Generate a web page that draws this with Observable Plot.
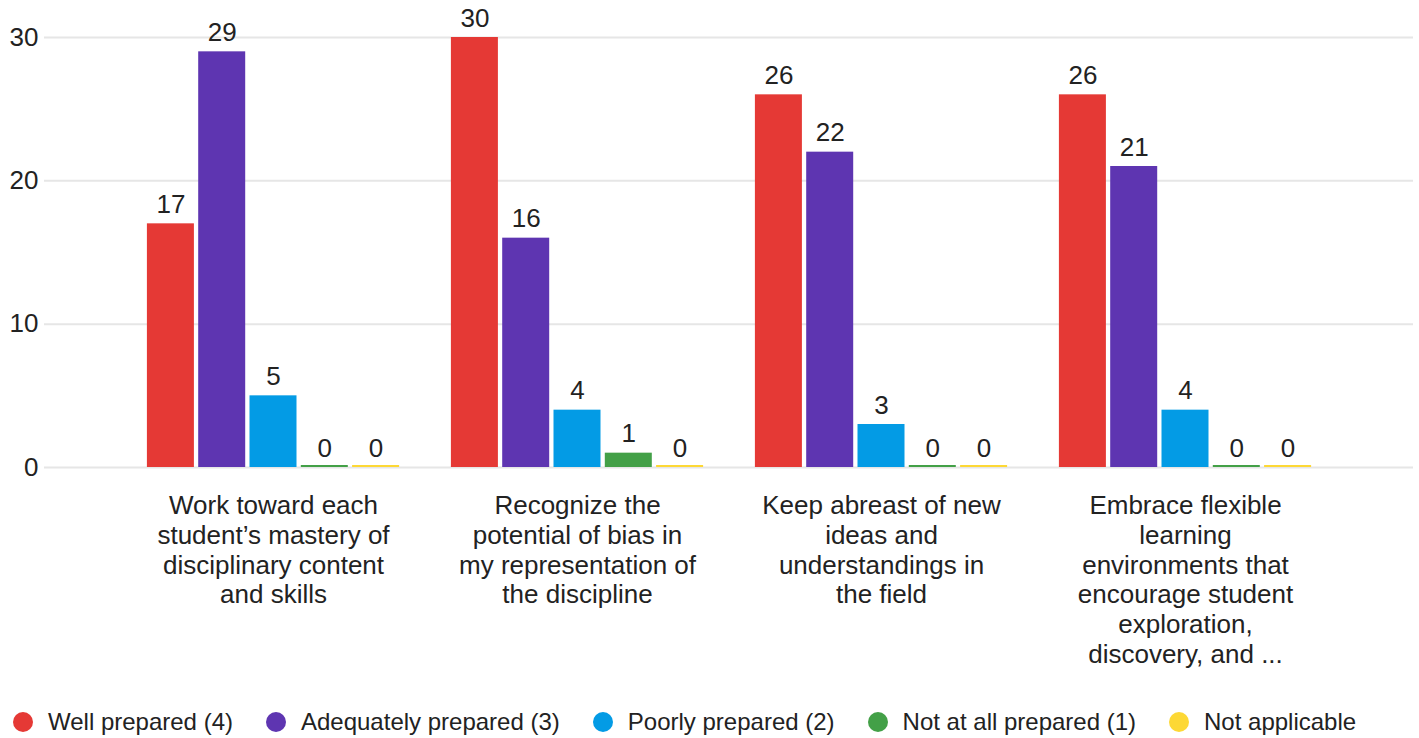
<!DOCTYPE html>
<html>
<head>
<meta charset="utf-8">
<script src="https://cdn.jsdelivr.net/npm/d3@7"></script>
<script src="https://cdn.jsdelivr.net/npm/@observablehq/plot@0.6"></script>
<style>
  html, body { margin: 0; padding: 0; background: #fff; }
  #chart svg { display: block; }
  #legend { display: flex; align-items: center; padding: 14px 0 0 13px; height: 36px;
    font-family: 'Liberation Sans', Arial, sans-serif; font-size: 24px; color: #222; }
  .item { display: flex; align-items: center; margin-right: 33px; }
  .dot { width: 20px; height: 20px; border-radius: 50%; margin-right: 15px; }
</style>
</head>
<body>
<div id="chart"></div>
<div id="legend"></div>
<script>
const groups = [
  "Work toward each student’s mastery of disciplinary content and skills",
  "Recognize the potential of bias in my representation of the discipline",
  "Keep abreast of new ideas and understandings in the field",
  "Embrace flexible learning environments that encourage student exploration, discovery, and ..."
];
const groupLabels = [
  "Work toward each\nstudent’s mastery of\ndisciplinary content\nand skills",
  "Recognize the\npotential of bias in\nmy representation of\nthe discipline",
  "Keep abreast of new\nideas and\nunderstandings in\nthe field",
  "Embrace flexible\nlearning\nenvironments that\nencourage student\nexploration,\ndiscovery, and ..."
];
const series = ["Well prepared (4)", "Adequately prepared (3)", "Poorly prepared (2)", "Not at all prepared (1)", "Not applicable"];
const colors = ["#e53935", "#5e35b1", "#039be5", "#43a047", "#fdd835"];
const wellPrepared = [17, 30, 26, 26];
const adequatelyPrepared = [29, 16, 22, 21];
const poorlyPrepared = [5, 4, 3, 4];
const notAtAllPrepared = [0, 1, 0, 0];
const notApplicable = [0, 0, 0, 0];
const yTicks = [0, 10, 20, 30];

const seriesValues = [wellPrepared, adequatelyPrepared, poorlyPrepared, notAtAllPrepared, notApplicable];
const rows = [];
series.forEach((s, i) => groups.forEach((g, j) => rows.push({group: g, series: s, value: seriesValues[i][j]})));

const W = 1419, H = 690, y0px = 467;
const x0 = 120.5, x1 = 1336.5;
const band = (x1 - x0) / groups.length;
const barW = 47, pitch = 51.3;
const span = pitch * (series.length - 1) + barW;

const marks = [Plot.ruleY(yTicks, {stroke: "#e6e6e6", strokeWidth: 2})];
series.forEach((s, i) => {
  const left = band / 2 - span / 2 + pitch * i;
  const right = band - left - barW;
  const data = rows.filter(d => d.series === s);
  marks.push(Plot.barY(data.filter(d => d.value > 0), {x: "group", y: "value", fill: "series", insetLeft: left, insetRight: right}));
  marks.push(Plot.barY(data.filter(d => d.value === 0), {x: "group", y: "value", fill: "series", insetLeft: left, insetRight: right, insetTop: -2}));
  marks.push(Plot.text(data, {x: "group", y: "value", text: d => String(d.value), dx: pitch * (i - (series.length - 1) / 2), dy: -19, fontSize: 26, fill: "#222"}));
});
marks.push(Plot.axisY({ticks: yTicks, tickSize: 0, tickPadding: 6, fontSize: 26, label: null}));
marks.push(Plot.axisX({tickSize: 0, tickPadding: 25, fontSize: 26, lineHeight: 1.15, label: null, tickFormat: g => groupLabels[groups.indexOf(g)]}));

const chart = Plot.plot({
  width: W, height: H,
  marginLeft: 44, marginRight: 6, marginTop: 37, marginBottom: H - y0px,
  x: {type: "band", domain: groups, range: [x0, x1], padding: 0, axis: null, label: null},
  y: {domain: [0, 30], axis: null, label: null},
  color: {domain: series, range: colors},
  style: {fontFamily: "'Liberation Sans', Arial, sans-serif", fontSize: "26px", color: "#222", background: "#fff"},
  marks
});
document.getElementById("chart").appendChild(chart);

const legend = document.getElementById("legend");
series.forEach((s, i) => {
  const item = document.createElement("div");
  item.className = "item";
  const dot = document.createElement("span");
  dot.className = "dot";
  dot.style.background = colors[i];
  const label = document.createElement("span");
  label.textContent = s;
  item.appendChild(dot);
  item.appendChild(label);
  legend.appendChild(item);
});
</script>
</body>
</html>
